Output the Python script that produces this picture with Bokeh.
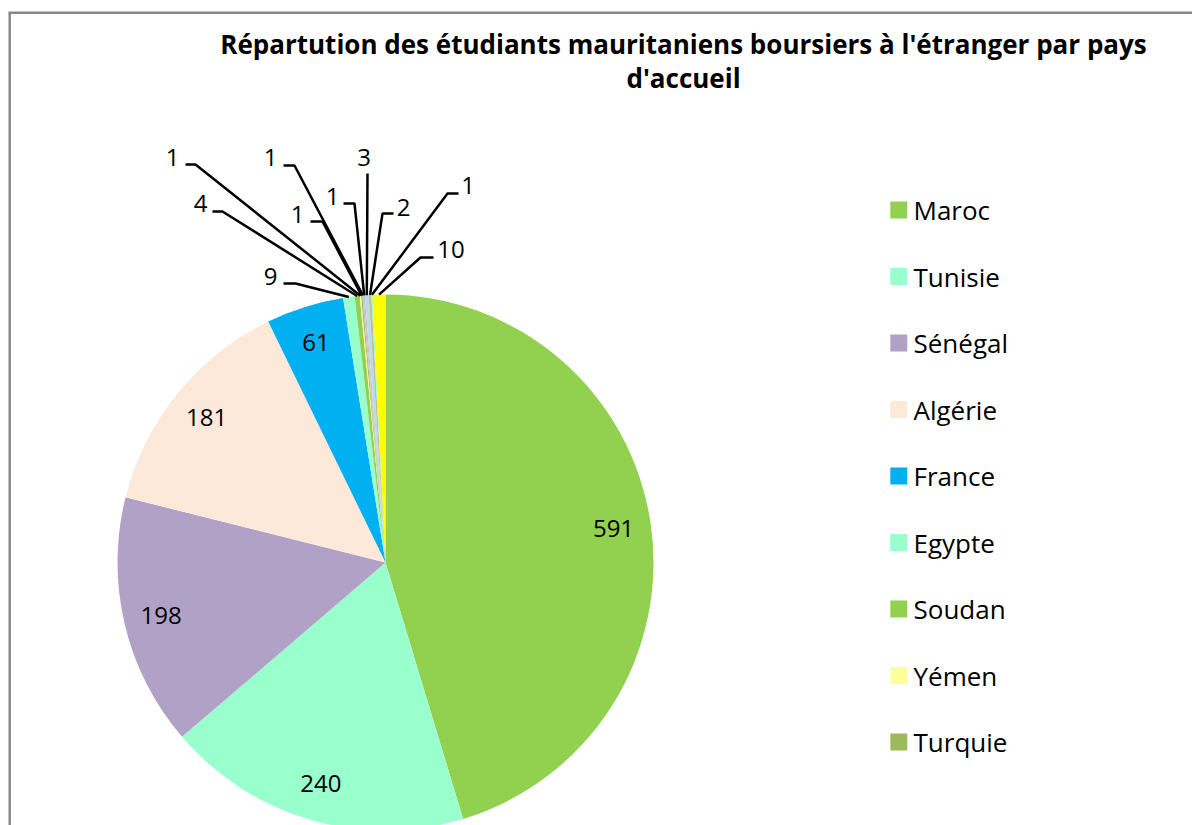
import math
from bokeh.plotting import figure
from bokeh.models import Range1d, ColumnDataSource
from bokeh.embed import file_html
from bokeh.resources import INLINE
from bokeh.core.properties import value

# ---------------- data ----------------
title_lines = [
    "Répartution des étudiants mauritaniens boursiers à l'étranger par pays",
    "d'accueil",
]
countries = ["Maroc", "Tunisie", "Sénégal", "Algérie", "France", "Egypte",
             "Soudan", "Yémen", "Turquie",
             "Pays 10", "Pays 11", "Pays 12", "Pays 13", "Pays 14", "Pays 15"]
students = [591, 240, 198, 181, 61, 9, 4, 1, 1, 1, 1, 3, 2, 1, 10]
colors = ["#92D050", "#99FFCC", "#B2A1C7", "#FDE9D9", "#00B0F0", "#99FFCC",
          "#92D050", "#FFFF99", "#9BBB59",
          "#CCC0DA", "#BFBFBF", "#B7DEE8", "#C4BD97", "#99FFCC", "#FFFF00"]
legend_count = 9   # the reference legend only lists the first nine countries

# ---------------- layout (page pixel coordinates) ----------------
PAGE_W, PAGE_H = 1192, 825
FONT = "Open Sans"


def Y(py):
    """page y (downwards) -> data y (upwards)"""
    return PAGE_H - py


CX, CY, R = 385, Y(562), 268
inside_count = 5
inside_frac = 0.86
# outside labels (small slices): text centre, and leader start -> elbow
out_text = [(270, 275.5), (200, 203), (172, 156.5), (297, 213.5), (270, 156.5),
            (332, 195.5), (363.5, 156.5), (403, 206.5), (467.5, 185), (450.5, 248.5)]
out_leg = [((283, 283), (295, 283)), ((212, 211), (222, 211)), ((185, 164), (195, 164)),
           ((310, 221), (322, 221)), ((283, 165), (294, 165)), ((343, 203), (354, 203)),
           ((367, 173), (367, 173)), ((393, 213), (382, 213)), ((458, 193), (447, 193)),
           ((433, 257), (420, 257))]

p = figure(width=PAGE_W, height=PAGE_H, x_range=Range1d(0, PAGE_W), y_range=Range1d(0, PAGE_H),
           output_backend="svg", toolbar_location=None, min_border=0,
           x_axis_location=None, y_axis_location=None, outline_line_color=None)
p.grid.visible = False
p.background_fill_color = "white"
p.border_fill_color = "white"

# ---- pie ----
total = float(sum(students))
cum = 0.0
starts, ends, mids = [], [], []
for v in students:
    a0 = math.pi / 2 - 2 * math.pi * cum / total
    cum += v
    a1 = math.pi / 2 - 2 * math.pi * cum / total
    starts.append(a1)
    ends.append(a0)
    mids.append((a0 + a1) / 2)

src = ColumnDataSource(dict(country=countries, students=students, color=colors,
                            start=starts, end=ends))
p.wedge(x=CX, y=CY, radius=R, start_angle="start", end_angle="end",
        fill_color="color", line_color=None, source=src)

# ---- inside labels ----
lx = [CX + inside_frac * R * math.cos(m) for m in mids[:inside_count]]
ly = [CY + inside_frac * R * math.sin(m) for m in mids[:inside_count]]
p.text(x=lx, y=ly, text=[str(v) for v in students[:inside_count]],
       text_font=value(FONT), text_font_size="24px", text_color="black",
       text_align="center", text_baseline="middle")

# ---- outside labels with leader lines ----
xs, ys = [], []
for k, i in enumerate(range(inside_count, len(students))):
    (sx, sy), (ex, ey) = out_leg[k]
    tx = CX + R * math.cos(mids[i])
    ty = CY + R * math.sin(mids[i])
    xs.append([sx, ex, tx])
    ys.append([Y(sy), Y(ey), ty])
p.multi_line(xs=xs, ys=ys, line_color="black", line_width=2.5)
p.text(x=[t[0] for t in out_text], y=[Y(t[1]) for t in out_text],
       text=[str(v) for v in students[inside_count:]],
       text_font=value(FONT), text_font_size="24px", text_color="black",
       text_align="center", text_baseline="middle")

# ---- legend ----
leg_y0, leg_dy, sq = 209.5, 66.5, 17
leg_cy = [Y(leg_y0 + leg_dy * i) for i in range(legend_count)]
p.rect(x=[898.3] * legend_count, y=leg_cy, width=sq, height=sq,
       fill_color=colors[:legend_count], line_color=None)
p.text(x=[913] * legend_count, y=leg_cy, text=countries[:legend_count],
       text_font=value(FONT), text_font_size="26px", text_color="black",
       text_align="left", text_baseline="middle")

# ---- title ----
p.text(x=[683, 683], y=[Y(43), Y(77)], text=title_lines,
       text_font=value(FONT), text_font_size="26px", text_font_style="bold",
       text_color="black", text_align="center", text_baseline="middle")

# ---- chart border ----
p.line(x=[9.2, 9.2], y=[Y(PAGE_H + 5), Y(12.2)], line_color="#868686", line_width=2.4)
p.line(x=[8, PAGE_W + 5], y=[Y(12.2), Y(12.2)], line_color="#868686", line_width=2.4)

open("out.html", "w").write(file_html(p, INLINE))
